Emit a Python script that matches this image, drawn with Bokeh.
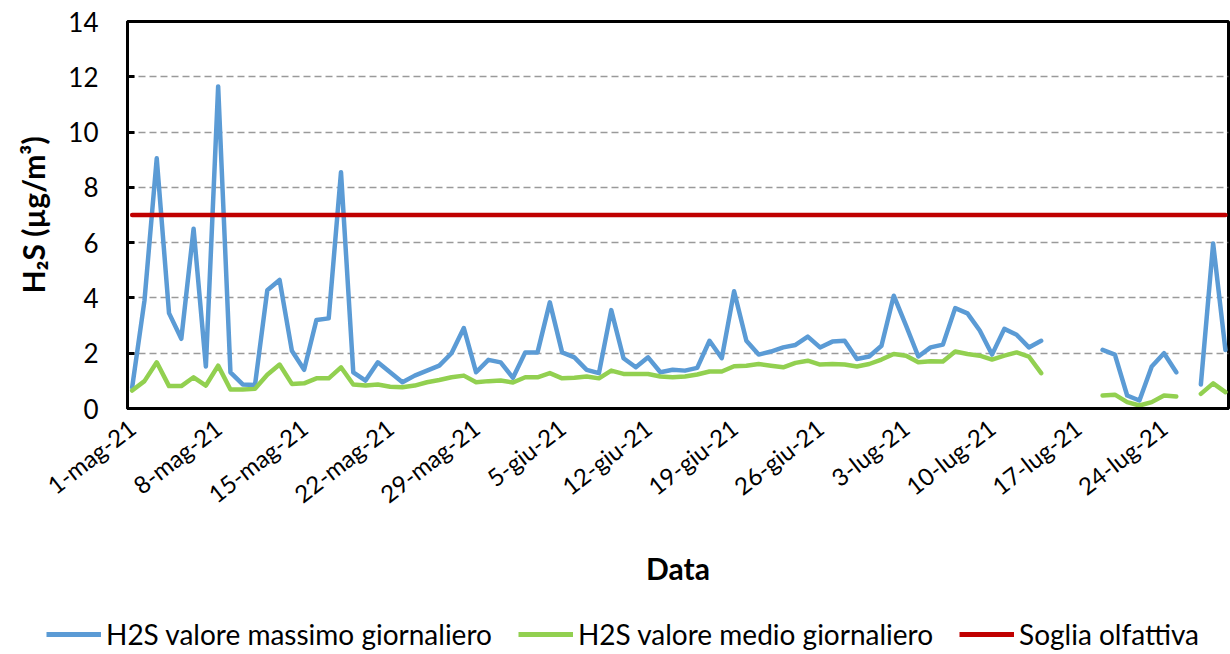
import numpy as np
import pandas as pd
from bokeh.plotting import figure
from bokeh.layouts import column, row
from bokeh.models import Range1d, FixedTicker, Legend, LegendItem
from bokeh.embed import file_html
from bokeh.resources import INLINE

nan = float("nan")

# Giorni di misura (1 maggio - 29 luglio 2021)
dates = pd.date_range("2021-05-01", "2021-07-29", freq="D")

# H2S valore massimo giornaliero (µg/m3)
h2s_max = [
    0.77, 3.90, 9.05, 3.45, 2.52, 6.50, 1.52, 11.65, 1.31, 0.87,
    0.85, 4.28, 4.65, 2.09, 1.40, 3.20, 3.26, 8.55, 1.31, 1.01,
    1.67, 1.31, 0.95, 1.19, 1.37, 1.55, 2.00, 2.91, 1.31, 1.76,
    1.67, 1.11, 2.03, 2.03, 3.84, 2.03, 1.85, 1.40, 1.28, 3.56,
    1.82, 1.49, 1.85, 1.31, 1.40, 1.37, 1.47, 2.45, 1.82, 4.24,
    2.45, 1.95, 2.06, 2.21, 2.30, 2.60, 2.21, 2.42, 2.45, 1.79,
    1.88, 2.27, 4.08, 3.00, 1.88, 2.21, 2.31, 3.63, 3.44, 2.82,
    1.95, 2.88, 2.67, 2.21, 2.45, nan, nan, nan, nan, 2.12,
    1.95, 0.47, 0.29, 1.52, 2.00, 1.31, nan, 0.87, 5.97, 2.12,
]

# H2S valore medio giornaliero (µg/m3)
h2s_medio = [
    0.65, 0.99, 1.67, 0.81, 0.81, 1.13, 0.83, 1.55, 0.69, 0.69,
    0.71, 1.22, 1.59, 0.89, 0.91, 1.09, 1.09, 1.49, 0.87, 0.83,
    0.87, 0.79, 0.77, 0.83, 0.95, 1.03, 1.13, 1.19, 0.95, 0.99,
    1.01, 0.94, 1.13, 1.13, 1.28, 1.09, 1.11, 1.16, 1.09, 1.37,
    1.25, 1.25, 1.25, 1.16, 1.13, 1.16, 1.23, 1.34, 1.34, 1.53,
    1.55, 1.61, 1.55, 1.49, 1.65, 1.73, 1.59, 1.61, 1.59, 1.52,
    1.61, 1.77, 1.97, 1.91, 1.67, 1.71, 1.70, 2.06, 1.97, 1.91,
    1.77, 1.91, 2.03, 1.88, 1.28, nan, nan, nan, nan, 0.47,
    0.50, 0.23, 0.11, 0.23, 0.47, 0.43, nan, 0.53, 0.91, 0.59,
]

# Soglia olfattiva (µg/m3)
soglia = 7.0

# Etichette dell'asse x
tick_dates = ["2021-05-01", "2021-05-08", "2021-05-15", "2021-05-22",
              "2021-05-29", "2021-06-05", "2021-06-12", "2021-06-19",
              "2021-06-26", "2021-07-03", "2021-07-10", "2021-07-17",
              "2021-07-24"]
tick_labels = ["1-mag-21", "8-mag-21", "15-mag-21", "22-mag-21", "29-mag-21",
               "5-giu-21", "12-giu-21", "19-giu-21", "26-giu-21", "3-lug-21",
               "10-lug-21", "17-lug-21", "24-lug-21"]
y_ticks = [0, 2, 4, 6, 8, 10, 12, 14]

series_names = ["H2S valore massimo giornaliero", "H2S valore medio giornaliero",
                "Soglia olfattiva"]

x = [(d - dates[0]).days for d in dates]
tick_pos = [(pd.Timestamp(t) - dates[0]).days for t in tick_dates]
soglia_line = [soglia for _ in x]

FONT = "Lato"
BLUE, GREEN, RED = "#5B9BD5", "#92D050", "#C00000"
LW = 4.5

LEG_H = 40
p = figure(width=1230, height=654 - LEG_H, output_backend="svg",
           toolbar_location=None,
           x_range=Range1d(-0.38, 89.25), y_range=Range1d(0, 14),
           min_border_left=127, min_border_right=2, min_border_top=21,
           min_border_bottom=654 - LEG_H - 408)

p.background_fill_color = "white"
p.border_fill_color = "white"
p.outline_line_color = "black"
p.outline_line_width = 3

p.xgrid.visible = False
p.ygrid.grid_line_color = "#9a9a9a"
p.ygrid.grid_line_dash = "7 4"
p.ygrid.grid_line_width = 1.3

# y axis
p.yaxis.ticker = FixedTicker(ticks=y_ticks)
p.yaxis.axis_line_color = "black"
p.yaxis.axis_line_width = 3
p.yaxis.major_tick_in = 7
p.yaxis.major_tick_out = 0
p.yaxis.major_tick_line_width = 3
p.yaxis.minor_tick_line_color = None
p.yaxis.major_label_text_font = FONT
p.yaxis.major_label_text_font_size = "26px"
p.yaxis.major_label_text_color = "black"
p.yaxis.major_label_standoff = 29
p.yaxis.axis_label = "H\u2082S (\u00b5g/m\u00b3)"
p.yaxis.axis_label_text_font = FONT
p.yaxis.axis_label_text_font_style = "bold"
p.yaxis.axis_label_text_font_size = "30px"
p.yaxis.axis_label_text_color = "black"
p.yaxis.axis_label_standoff = 14

# x axis
p.xaxis.ticker = FixedTicker(ticks=tick_pos)
p.xaxis.major_label_overrides = {t: l for t, l in zip(tick_pos, tick_labels)}
p.xaxis.major_label_orientation = 0.66
p.xaxis.axis_line_color = "black"
p.xaxis.axis_line_width = 3
p.xaxis.major_tick_in = 0
p.xaxis.major_tick_out = 0
p.xaxis.minor_tick_line_color = None
p.xaxis.major_label_text_font = FONT
p.xaxis.major_label_text_font_size = "24px"
p.xaxis.major_label_text_color = "black"
p.xaxis.major_label_standoff = 16
p.xaxis.axis_label = "Data"
p.xaxis.axis_label_text_font = FONT
p.xaxis.axis_label_text_font_style = "bold"
p.xaxis.axis_label_text_font_size = "30px"
p.xaxis.axis_label_text_color = "black"
p.xaxis.axis_label_standoff = 27

series = [h2s_max, h2s_medio, soglia_line]
colors = [BLUE, GREEN, RED]
for ys, c in zip(series, colors):
    p.line(x, ys, line_color=c, line_width=LW, line_join="round", line_cap="round")

# Legend strip below the chart: the same series, drawn out of view, feed the legend
lg = figure(width=1230, height=LEG_H, output_backend="svg", toolbar_location=None,
            x_range=Range1d(-0.38, 89.25), y_range=Range1d(100, 101),
            x_axis_location=None, y_axis_location=None,
            min_border=0, min_border_left=0, min_border_right=0,
            min_border_top=0, min_border_bottom=0, outline_line_color=None)
lg.xgrid.visible = False
lg.ygrid.visible = False
lg.background_fill_color = "white"
lg.border_fill_color = "white"
rs = [lg.line(x, ys, line_color=c, line_width=5) for ys, c in zip(series, colors)]

legend = Legend(items=[LegendItem(label=n, renderers=[r])
                       for n, r in zip(series_names, rs)],
                orientation="horizontal", location=(46, 3))
legend.label_text_font = FONT
legend.label_text_font_size = "28px"
legend.label_text_color = "black"
legend.glyph_width = 55
legend.glyph_height = 20
legend.label_standoff = 5
legend.spacing = 26
legend.padding = 0
legend.margin = 0
legend.border_line_color = None
legend.background_fill_alpha = 0
lg.add_layout(legend, "center")

open("out.html", "w").write(file_html(column(p, row(lg), spacing=0), INLINE))
